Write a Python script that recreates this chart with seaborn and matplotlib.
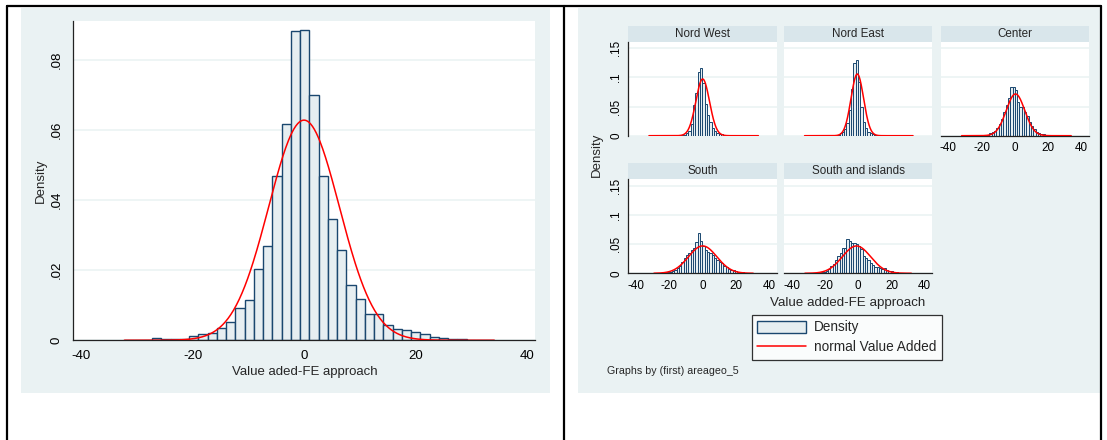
"""Two Stata-style density histograms with normal overlays: pooled and by area."""

import matplotlib as mpl
import matplotlib.pyplot as plt
import numpy as np
import pandas as pd
import seaborn as sns
from matplotlib.lines import Line2D
from matplotlib.patches import Patch, Rectangle

mpl.use("Agg")
sns.set_theme(style="white")
plt.rcParams["font.family"] = ["Liberation Sans", "DejaVu Sans"]

W, H = 1107, 440

# Pooled histogram (left graph), 40 bins
left_start = -32.3
left_width = 1.663
left_density = [0.0001, 0.0001, 0.0001, 0.0007, 0.0003, 0.0005,
                0.0005, 0.0011, 0.0017, 0.0021, 0.0034, 0.0052,
                0.0091, 0.0116, 0.0204, 0.0269, 0.0468, 0.0616,
                0.0883, 0.0886, 0.0700, 0.0469, 0.0347, 0.0257,
                0.0157, 0.0117, 0.0074, 0.0076, 0.0045, 0.0032,
                0.0029, 0.0024, 0.0018, 0.00095, 0.0006, 0.0005,
                0.0003, 0.0002, 0.0001, 0.0001]
left_normal = (0.0, 6.35)
left_range = (-32.3, 34.2)

# Histograms by area (right graph)
areas = ["Nord West", "Nord East", "Center", "South", "South and islands"]
area_start = -32.2
area_width = 1.4
nord_west = [0, 0, 0.0003, 0, 0, 0.0003, 0.0003, 0.0005, 0.0003, 0.0005,
             0.0005, 0.0008, 0.0008, 0.001, 0.0015, 0.002, 0.004, 0.008,
             0.02, 0.052, 0.073, 0.109, 0.117, 0.09, 0.055, 0.035, 0.024,
             0.0126, 0.0074, 0.005, 0.0034, 0.0025, 0.002, 0.0015, 0.0015,
             0.001, 0.0008, 0.0005, 0.0005, 0.0003, 0.0003, 0.0003, 0,
             0.0003, 0, 0, 0]
nord_east = [0, 0, 0, 0, 0, 0, 0.0003, 0.0003, 0.0005, 0.0005, 0.0008,
             0.001, 0.0017, 0.0017, 0.002, 0.004, 0.0057, 0.011, 0.021,
             0.044, 0.080, 0.124, 0.130, 0.093, 0.05, 0.024, 0.0126,
             0.0069, 0.005, 0.003, 0.0017, 0.001, 0.0008, 0.0005, 0.0005,
             0.0003, 0.0003, 0.0005, 0.001, 0.0005, 0.0003, 0, 0, 0, 0,
             0, 0]
center = [0, 0, 0.0003, 0, 0.0003, 0.0005, 0.0005, 0.0008, 0.001, 0.001,
          0.0015, 0.002, 0.004, 0.007, 0.008, 0.013, 0.02, 0.028, 0.04,
          0.052, 0.064, 0.083, 0.084, 0.079, 0.058, 0.050, 0.050, 0.040,
          0.033, 0.024, 0.017, 0.011, 0.007, 0.0046, 0.003, 0.0025, 0.002,
          0.0015, 0.001, 0.0008, 0.0005, 0.0005, 0.0003, 0.0003, 0,
          0.0003, 0]
south = [0, 0.0003, 0.0003, 0.0005, 0.0005, 0.0008, 0.001, 0.0015, 0.002,
         0.003, 0.0045, 0.006, 0.009, 0.013, 0.019, 0.026, 0.031, 0.034,
         0.040, 0.043, 0.053, 0.069, 0.056, 0.046, 0.040, 0.037, 0.034,
         0.031, 0.026, 0.022, 0.019, 0.017, 0.013, 0.010, 0.008, 0.006,
         0.0055, 0.0045, 0.003, 0.002, 0.0015, 0.001, 0.0005, 0.0005,
         0.0003, 0, 0.0003]
south_islands = [0, 0.0003, 0, 0.0005, 0.0005, 0.0008, 0.001, 0.0015,
                 0.003, 0.0045, 0.008, 0.012, 0.016, 0.022, 0.029, 0.035,
                 0.0435, 0.0435, 0.058, 0.055, 0.0515, 0.0515, 0.0505,
                 0.046, 0.041, 0.030, 0.027, 0.0235, 0.018, 0.014, 0.010,
                 0.010, 0.009, 0.008, 0.009, 0.006, 0.0045, 0.0034, 0.002,
                 0.0015, 0.001, 0.0005, 0.0005, 0.0003, 0, 0.0003, 0]
area_density = [nord_west, nord_east, center, south, south_islands]
area_normal = [(0.2, 4.1), (-0.5, 3.77), (0.4, 5.57), (0.2, 8.49), (-1.0, 8.5)]
area_range = [(-32.0, 33.6), (-32.2, 33.0), (-32.0, 33.9), (-29.0, 30.5),
              (-32.0, 32.0)]

x_ticks = [-40, -20, 0, 20, 40]
left_yticks = [0, 0.02, 0.04, 0.06, 0.08]
left_ylabels = ["0", ".02", ".04", ".06", ".08"]
area_yticks = [0, 0.05, 0.1, 0.15]
area_ylabels = ["0", ".05", ".1", ".15"]

BG = "#EAF2F3"
STRIP = "#D9E6EB"
NAVY = "#1A476F"
BAR = "#E6EEF1"


def px_box(x0, y0, x1, y1):
    """Figure fraction box from pixel corners (y measured from the top)."""
    return [x0 / W, 1 - y1 / H, (x1 - x0) / W, (y1 - y0) / H]


def fig_rect(fig, x0, y0, x1, y1, color):
    l, b, w, h = px_box(x0, y0, x1, y1)
    fig.add_artist(Rectangle((l, b), w, h, transform=fig.transFigure,
                             facecolor=color, edgecolor="none", zorder=-5))


def fig_line(fig, xs, ys):
    fig.add_artist(Line2D([x / W for x in xs], [1 - y / H for y in ys],
                          transform=fig.transFigure, color="black", lw=1.6))


def draw_hist(ax, start, width, dens, normal, span, lw):
    edges = [start + width * k for k in range(len(dens) + 1)]
    df = pd.DataFrame({"value": [e + width / 2 for e in edges[:-1]],
                       "density": dens})
    sns.histplot(data=df, x="value", weights="density", bins=edges, ax=ax,
                 stat="count", color=BAR, edgecolor=NAVY, linewidth=lw,
                 alpha=1, zorder=2)
    mean, sd = normal
    xs = np.linspace(span[0], span[1], 400)
    ys = np.exp(-0.5 * ((xs - mean) / sd) ** 2) / (sd * np.sqrt(2 * np.pi))
    sns.lineplot(x=xs, y=ys, ax=ax, color="red", linewidth=1.1, zorder=3)
    ax.set(xlabel="", ylabel="")


def style_axes(ax, yticks, ylabels, size, show_y, show_x, ticklen):
    ax.set_facecolor("white")
    ax.set_axisbelow(True)
    ax.yaxis.grid(True, color=BG, lw=1.1)
    ax.xaxis.grid(False)
    for side in ["top", "right"]:
        ax.spines[side].set_visible(False)
    ax.spines["left"].set_visible(show_y)
    ax.spines["bottom"].set_visible(show_x)
    for side in ["left", "bottom"]:
        ax.spines[side].set_color("#222222")
        ax.spines[side].set_linewidth(0.9)
    ax.set_yticks(yticks)
    ax.set_xticks(x_ticks)
    ax.tick_params(axis="both", length=ticklen, width=0.8, color="#444444",
                   labelsize=size, labelcolor="black", pad=1.5)
    if show_y:
        ax.set_yticklabels(ylabels, rotation=90, va="center")
    else:
        ax.tick_params(axis="y", left=False, labelleft=False)
    if show_x:
        ax.set_xticklabels([str(t) for t in x_ticks])
    else:
        ax.tick_params(axis="x", bottom=False, labelbottom=False)


def main():
    fig = plt.figure(figsize=(W / 100, H / 100), dpi=100)
    fig.patch.set_facecolor("white")

    # Graph backgrounds and table borders
    fig_rect(fig, 21, 8, 550, 393, BG)
    fig_rect(fig, 578, 8, 1100, 393, BG)
    fig_line(fig, [7, 1101], [6, 6])
    fig_line(fig, [7, 7], [6, 440])
    fig_line(fig, [564, 564], [6, 440])
    fig_line(fig, [1101, 1101], [6, 440])

    # Left graph
    ax = fig.add_axes(px_box(73.4, 20.7, 535.3, 340.3))
    draw_hist(ax, left_start, left_width, left_density, left_normal,
              left_range, 1.0)
    ax.set_xlim(-41.44, 41.56)
    ax.set_ylim(0, 0.0912)
    style_axes(ax, left_yticks, left_ylabels, 9.5, True, True, 4.3)
    ax.tick_params(axis="x", pad=2.5)
    ax.tick_params(axis="y", pad=3.2)
    ax.set_xlabel("Value aded-FE approach", fontsize=9.5, labelpad=3)
    ax.set_ylabel("Density", fontsize=9.5, labelpad=3)

    # Right graph: one panel per area
    panels = [(628.3, 41.7, 776.7, 135.7), (784.3, 41.7, 932.3, 135.7),
              (941, 41.7, 1089, 135.7), (628.3, 179.3, 776.7, 273.3),
              (784.3, 179.3, 932.3, 273.3)]
    show_y = [True, False, False, True, False]
    show_x = [False, False, True, True, True]
    for i, name in enumerate(areas):
        x0, y0, x1, y1 = panels[i]
        fig_rect(fig, x0, y0 - 16, x1, y0, STRIP)
        fig.text((x0 + x1) / 2 / W, 1 - (y0 - 8) / H, name, fontsize=8.4,
                 ha="center", va="center")
        pax = fig.add_axes(px_box(x0, y0, x1, y1))
        draw_hist(pax, area_start, area_width, area_density[i],
                  area_normal[i], area_range[i], 0.7)
        pax.set_xlim(-44.4, 44.6)
        pax.set_ylim(0, 0.1613)
        style_axes(pax, area_yticks, area_ylabels, 8.4, show_y[i],
                   show_x[i], 3)

    fig.text(597 / W, 1 - 155 / H, "Density", fontsize=9.5, rotation=90,
             ha="center", va="center")
    fig.text(848 / W, 1 - 303 / H, "Value added-FE approach", fontsize=9.6,
             ha="center", va="center")

    handles = [Patch(facecolor=BAR, edgecolor=NAVY, linewidth=1.0),
               Line2D([0], [0], color="red", lw=1.1)]
    leg = fig.legend(handles, ["Density", "normal Value Added"],
                     loc="upper left", bbox_to_anchor=(751.7 / W, 1 - 315 / H),
                     borderaxespad=0, fontsize=9.8, frameon=True,
                     fancybox=False, handlelength=3.6, handleheight=0.95,
                     handletextpad=0.6, labelspacing=0.42, borderpad=0.4)
    leg.get_frame().set_edgecolor("black")
    leg.get_frame().set_linewidth(0.9)
    leg.get_frame().set_facecolor("white")

    fig.text(606.7 / W, 1 - 370.7 / H, "Graphs by (first) areageo_5",
             fontsize=7.7, ha="left", va="center")

    fig.savefig("out.png", dpi=100, facecolor="white")
    plt.close(fig)


if __name__ == "__main__":
    main()
